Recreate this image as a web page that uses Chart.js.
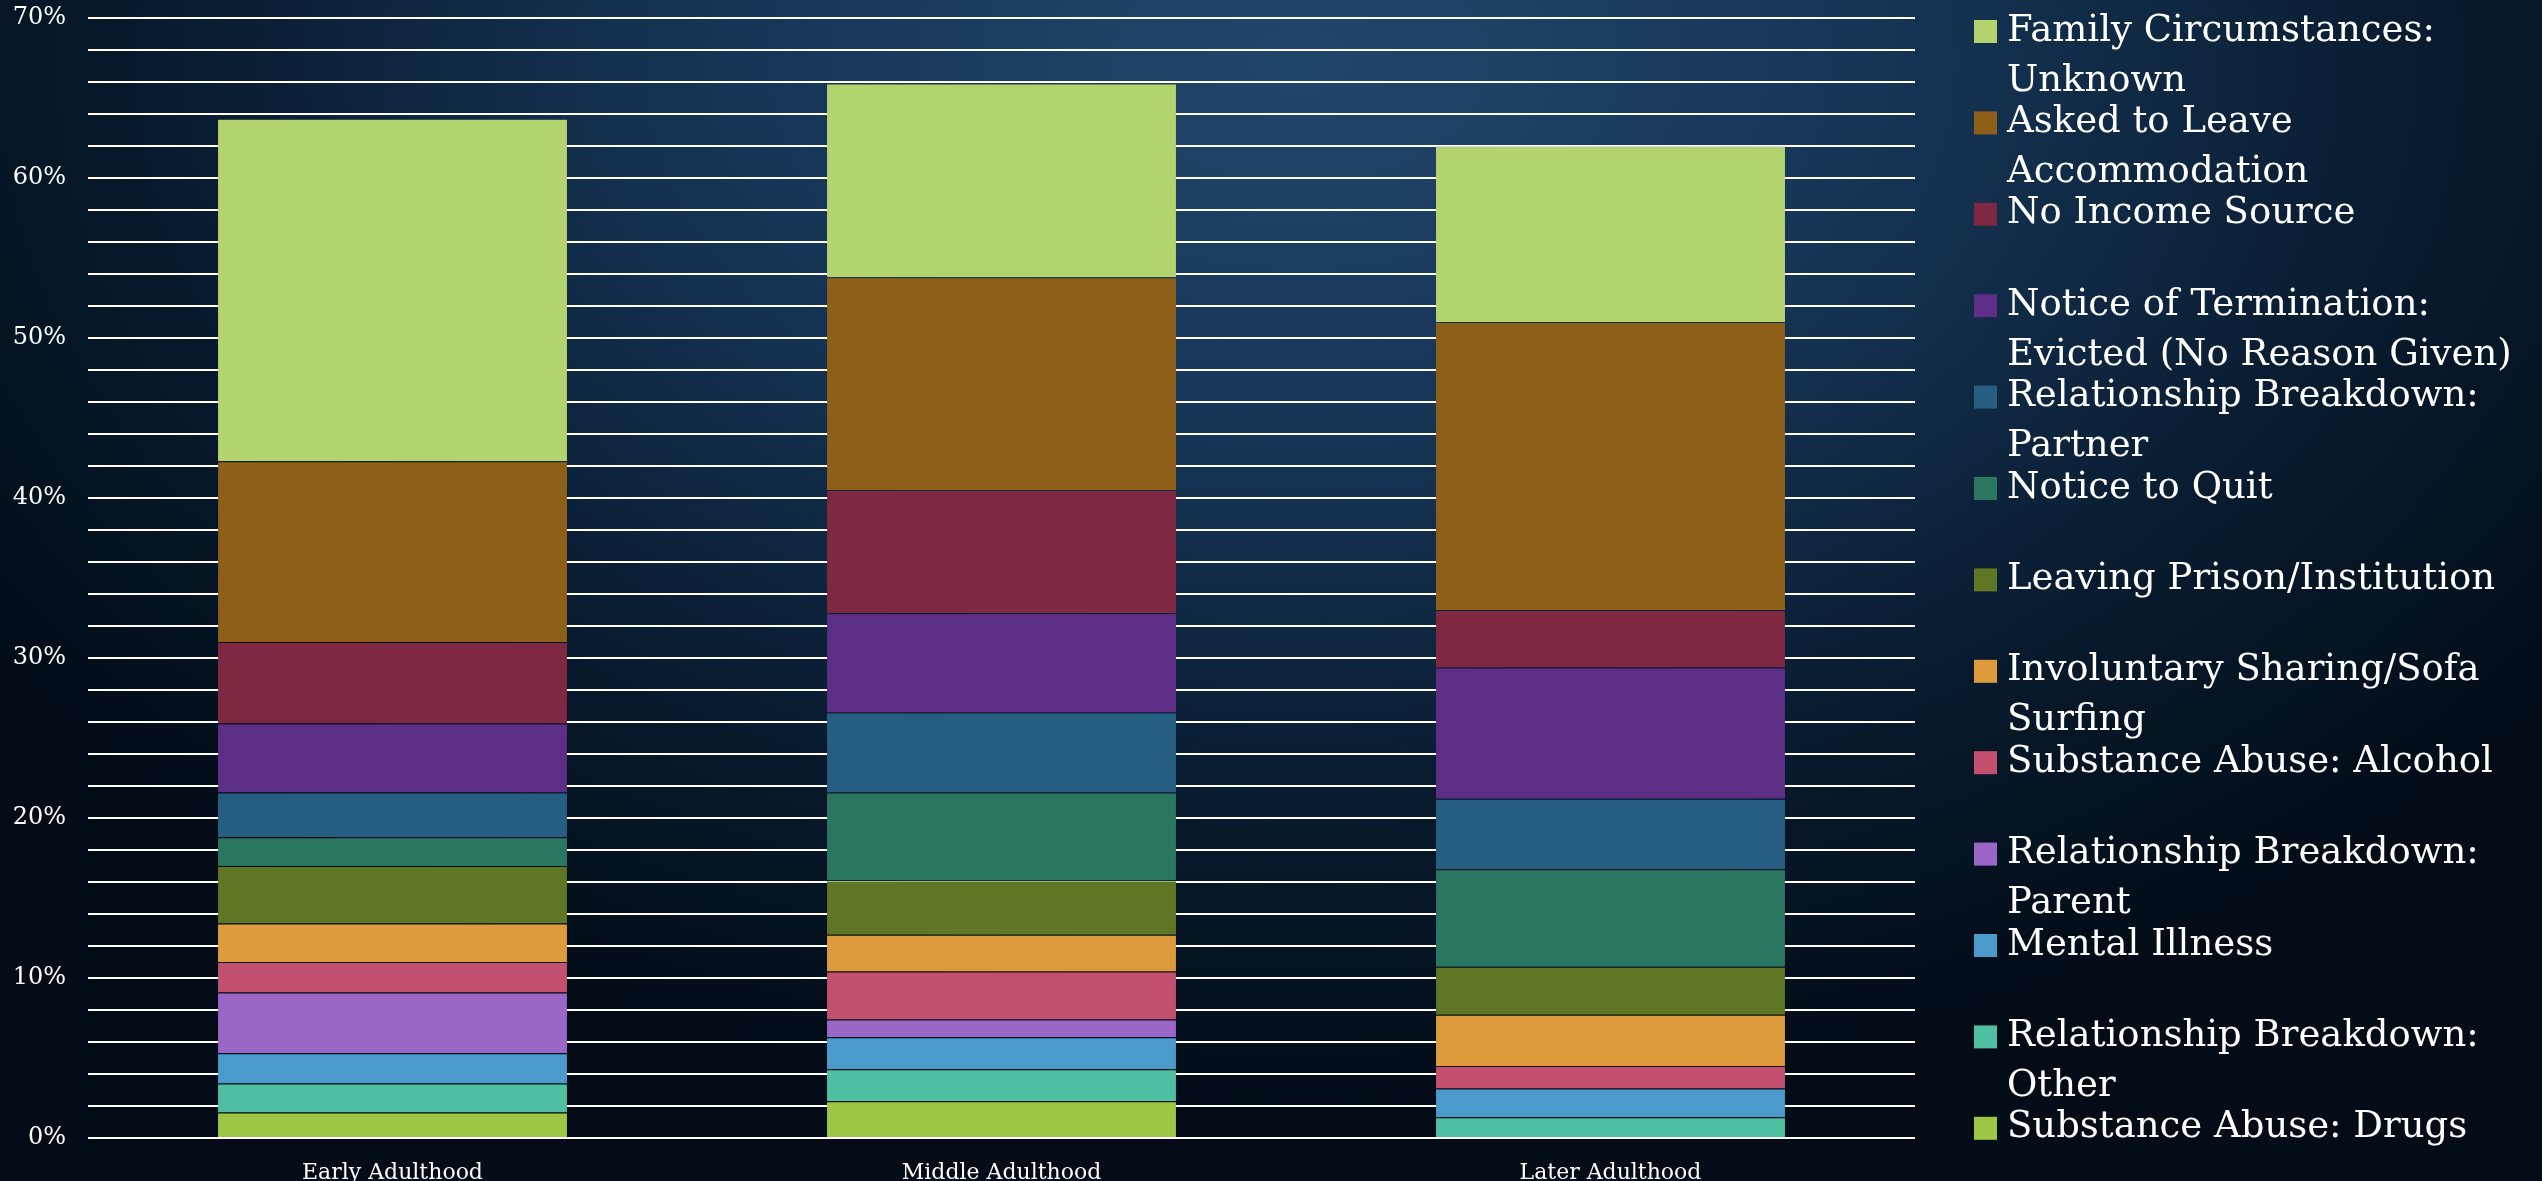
<!DOCTYPE html>
<html>
<head>
<meta charset="utf-8">
<script src="https://cdn.jsdelivr.net/npm/chart.js@4/dist/chart.umd.min.js"></script>
<style>
html, body { margin: 0; padding: 0; }
body {
    width: 2542px; height: 1181px; overflow: hidden;
    background: radial-gradient(ellipse 1600px 1050px at 1300px 60px, #21466b 0%, #153454 38%, #081a2d 72%, #030c17 100%);
}
canvas { display: block; }
</style>
</head>
<body>
<canvas id="myChart" width="2542" height="1181" style="width:2542px;height:1181px"></canvas>
<script>
//======================================DATA==================================//
var ageGroups = ["Early Adulthood", "Middle Adulthood", "Later Adulthood"];

// stacked bottom to top, values in %
var drugs        = [1.6, 2.3, 0];
var rbOther      = [1.8, 2.0, 1.3];
var mentalIll    = [1.9, 2.0, 1.8];
var rbParent     = [3.8, 1.1, 0];
var alcohol      = [1.9, 3.0, 1.4];
var sofaSurfing  = [2.4, 2.3, 3.2];
var leavingPrison= [3.6, 3.4, 3.0];
var noticeQuit   = [1.8, 5.5, 6.1];
var rbPartner    = [2.8, 5.0, 4.4];
var evicted      = [4.3, 6.2, 8.2];
var noIncome     = [5.1, 7.7, 3.6];
var askedToLeave = [11.3, 13.3, 18.0];
var familyUnknown= [21.4, 12.1, 11.0];

var yTicks = [0, 10, 20, 30, 40, 50, 60, 70];

//======================================CHART==================================//
var serif = "'DejaVu Serif', serif";

function ds(label, data, color){
    return {
        label: label,
        data: data,
        backgroundColor: color,
        borderColor: "rgba(0,0,0,0.15)",
        borderWidth: { top: 1, bottom: 0, left: 0, right: 0 },
        borderSkipped: false,
        barPercentage: 0.573,
        categoryPercentage: 1
    };
}

// draws the legend on the right, top item = top of stack, "\n" = line break
var sideLegend = {
    id: "sideLegend",
    afterDraw: function(chart){
        var ctx = chart.ctx;
        var items = chart.data.datasets.slice().reverse();
        ctx.save();
        ctx.font = "37px " + serif;
        ctx.textBaseline = "middle";
        items.forEach(function(d, i){
            var y = 31 + i * 91.4;
            ctx.fillStyle = d.backgroundColor;
            ctx.fillRect(1974, y - 11, 23, 23);
            ctx.fillStyle = "#ffffff";
            d.label.split("\n").forEach(function(l, j){
                ctx.fillText(l, 2007, y + j * 50);
            });
        });
        ctx.restore();
    }
};

new Chart("myChart", {
    type: "bar",
    data: {
        labels: ageGroups,
        datasets: [
            ds("Substance Abuse: Drugs", drugs, "#9fc545"),
            ds("Relationship Breakdown:\nOther", rbOther, "#4fbfa2"),
            ds("Mental Illness", mentalIll, "#4a9bcb"),
            ds("Relationship Breakdown:\nParent", rbParent, "#9a67c7"),
            ds("Substance Abuse: Alcohol", alcohol, "#c45070"),
            ds("Involuntary Sharing/Sofa\nSurfing", sofaSurfing, "#dd9b3d"),
            ds("Leaving Prison/Institution", leavingPrison, "#5f7725"),
            ds("Notice to Quit", noticeQuit, "#2b7660"),
            ds("Relationship Breakdown:\nPartner", rbPartner, "#255e80"),
            ds("Notice of Termination:\nEvicted (No Reason Given)", evicted, "#5c2e86"),
            ds("No Income Source", noIncome, "#7e2842"),
            ds("Asked to Leave\nAccommodation", askedToLeave, "#8e5f18"),
            ds("Family Circumstances:\nUnknown", familyUnknown, "#b2d36e")
        ]
    },
    plugins: [sideLegend],
    options: {
        responsive: false,
        animation: false,
        layout: { padding: { top: 18, right: 627, left: 0, bottom: 0 } },
        plugins: {
            legend: { display: false },
            tooltip: { enabled: false }
        },
        scales: {
            x: {
                stacked: true,
                grid: { display: false },
                border: { display: false },
                ticks: { color: "#ffffff", font: { family: serif, size: 22 }, padding: 14 },
                afterFit: function(scale){ scale.height = 43; }
            },
            y: {
                stacked: true,
                min: 0,
                max: 70,
                grid: { color: "#ffffff", lineWidth: 2, drawTicks: false },
                border: { display: false },
                ticks: {
                    stepSize: 2,
                    autoSkip: false,
                    color: "#ffffff",
                    padding: 22,
                    font: { family: serif, size: 24 },
                    callback: function(v){ return yTicks.indexOf(v) >= 0 ? v + "%" : ""; }
                },
                afterFit: function(scale){
                    scale.width = 88;
                    scale.paddingTop = 0;
                    scale.paddingBottom = 0;
                }
            }
        }
    }
});
</script>
</body>
</html>
